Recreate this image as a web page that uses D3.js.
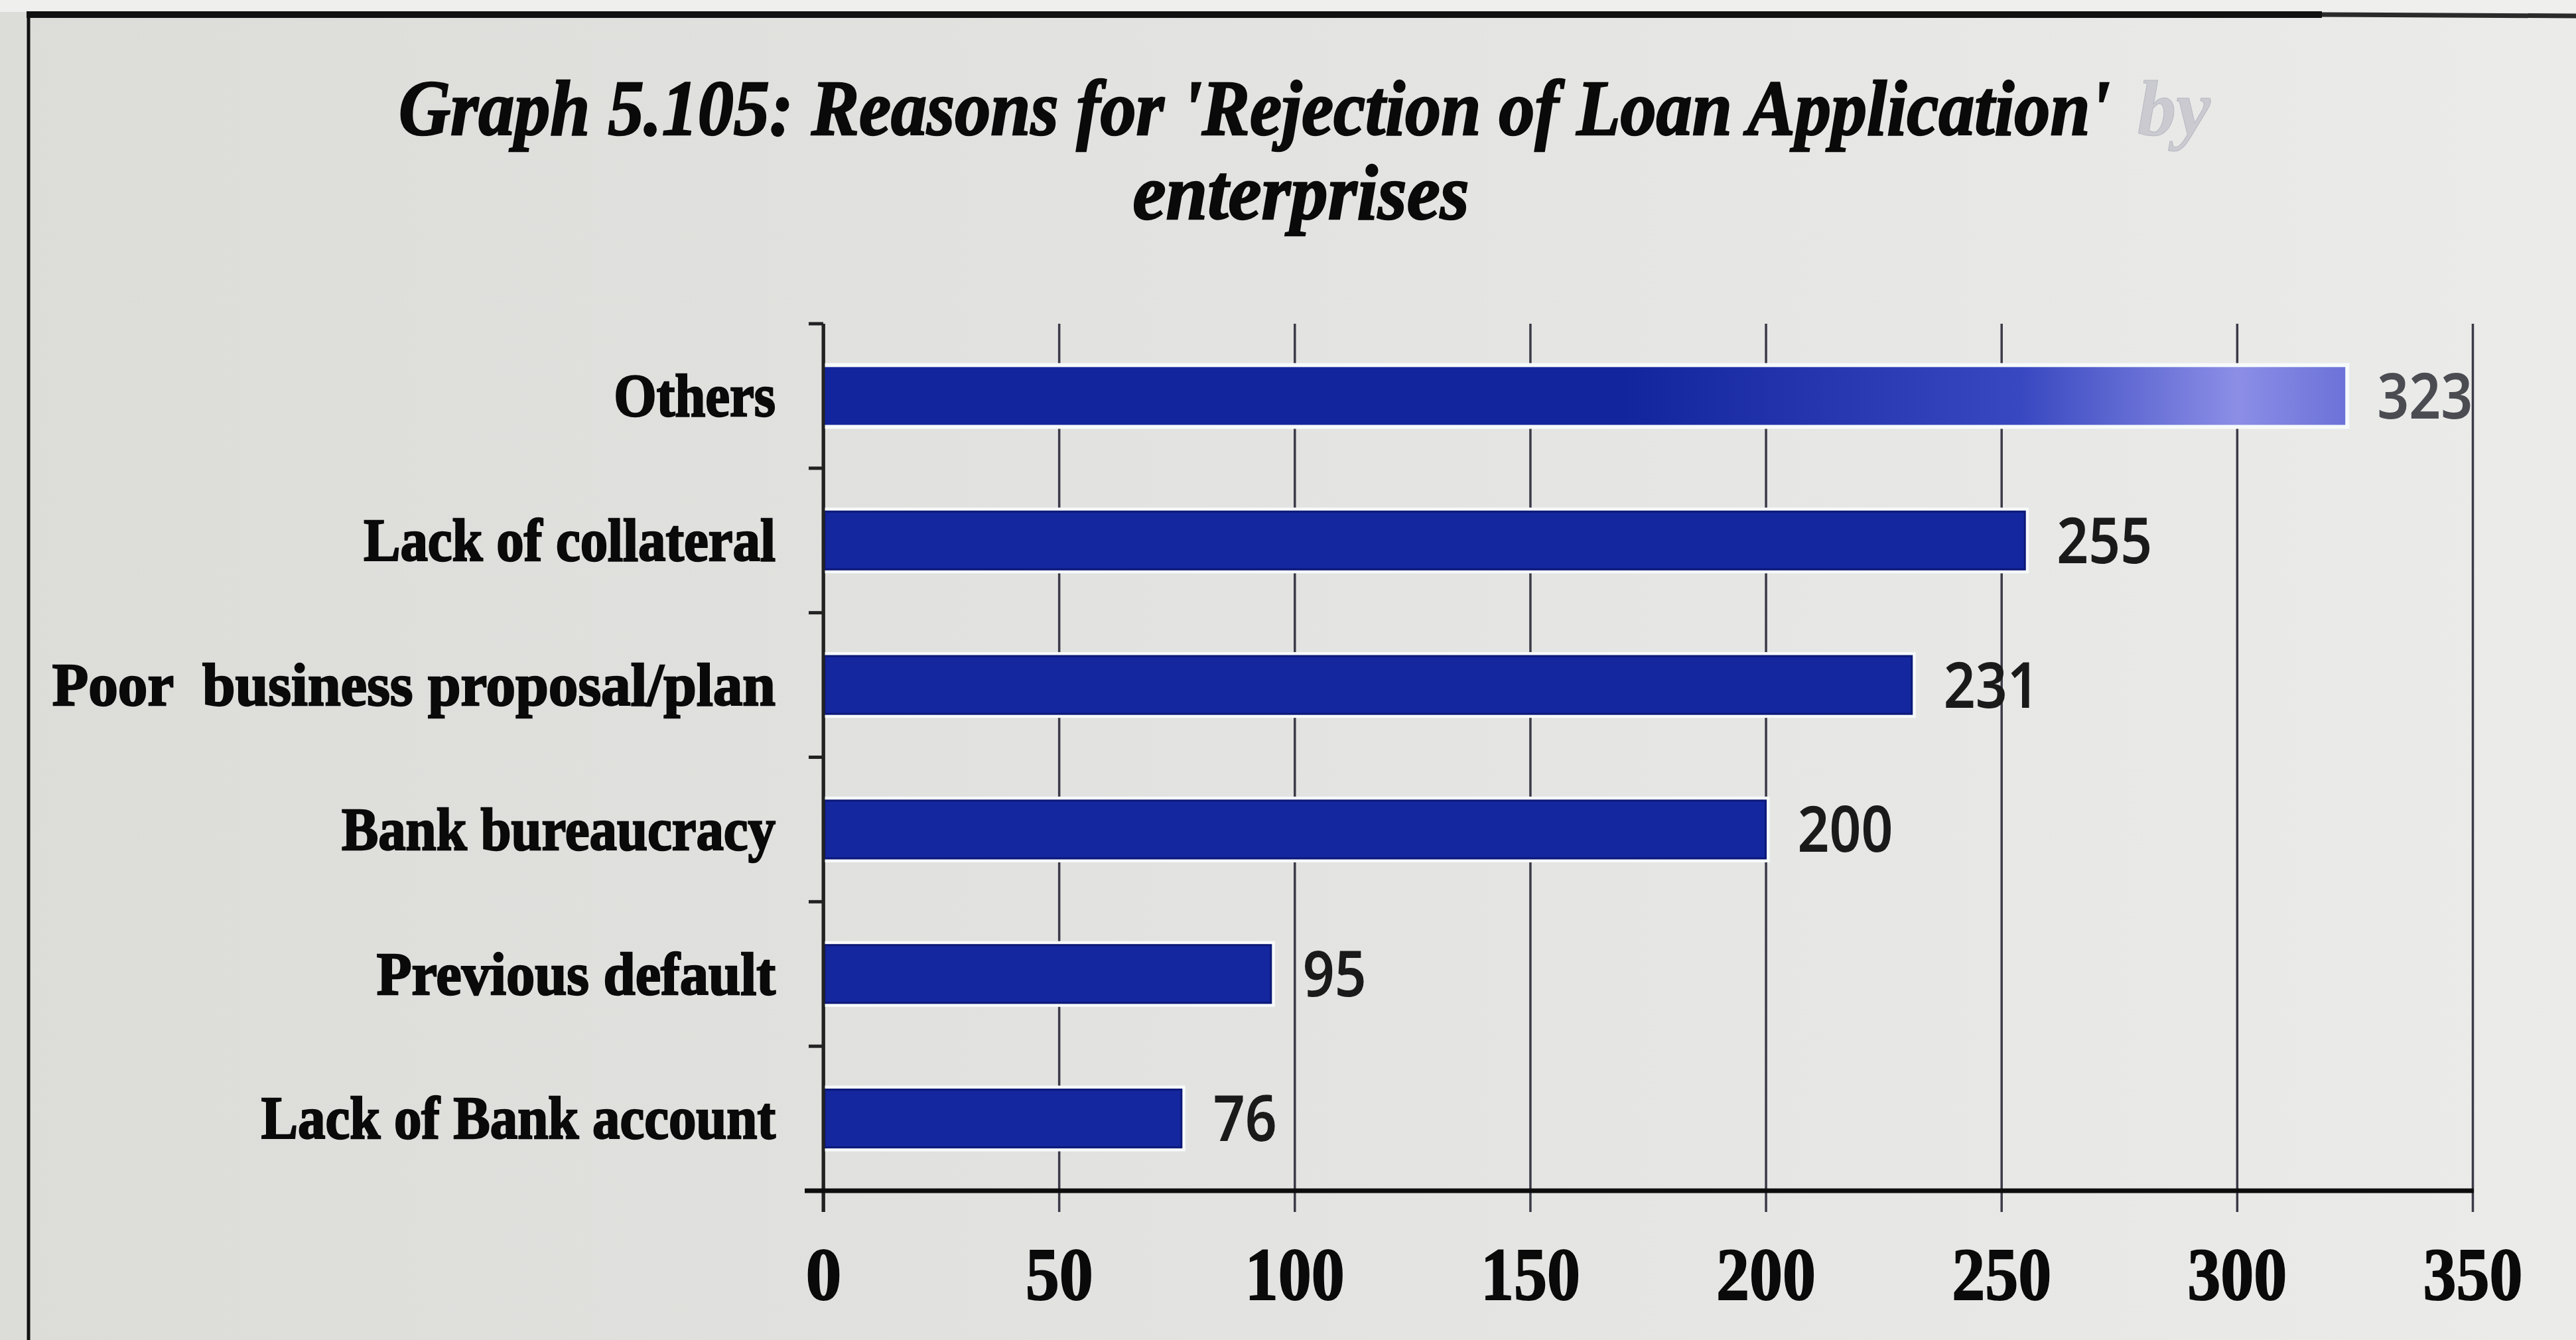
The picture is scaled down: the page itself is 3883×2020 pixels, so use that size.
<!DOCTYPE html>
<html>
<head>
<meta charset="utf-8">
<script src="https://cdn.jsdelivr.net/npm/d3@7"></script>
<style>
  html, body { margin: 0; padding: 0; background: #e4e4e2; overflow: hidden; }
  svg { display: block; }
</style>
</head>
<body>
<script>
// Reasons for rejection of loan applications (number of enterprises)
const categories = [
  "Others",
  "Lack of collateral",
  "Poor  business proposal/plan",
  "Bank bureaucracy",
  "Previous default",
  "Lack of Bank account"
];
const values = [323, 255, 231, 200, 95, 76];
const xTicks = [0, 50, 100, 150, 200, 250, 300, 350];
const titleLines = ["Graph 5.105: Reasons for 'Rejection of Loan Application'", "by", "enterprises"];

const W = 3883, H = 2020;
const margin = { top: 488, right: W - 3727, bottom: H - 1795, left: 1241 };

const svg = d3.select("body").append("svg")
  .attr("width", W).attr("height", H);

const defs = svg.append("defs");
const bg = defs.append("linearGradient").attr("id", "bg").attr("x1", 0).attr("x2", 1).attr("y1", 0).attr("y2", 0);
bg.append("stop").attr("offset", 0).attr("stop-color", "#dcdcd9");
bg.append("stop").attr("offset", 0.5).attr("stop-color", "#e3e3e1");
bg.append("stop").attr("offset", 1).attr("stop-color", "#ebebea");

// paper background and the frame around the figure
svg.append("rect").attr("width", W).attr("height", H).attr("fill", "url(#bg)");
svg.append("rect").attr("width", W).attr("height", 18).attr("fill", "#efefed");
svg.append("line").attr("x1", 40).attr("x2", 3500).attr("y1", 22).attr("y2", 22)
  .attr("stroke", "#111").attr("stroke-width", 10);
svg.append("line").attr("x1", 3500).attr("x2", W).attr("y1", 22).attr("y2", 24)
  .attr("stroke", "#2a2a2a").attr("stroke-width", 7);
svg.append("line").attr("x1", 43).attr("x2", 43).attr("y1", 18).attr("y2", H)
  .attr("stroke", "#111").attr("stroke-width", 5);

const x = d3.scaleLinear().domain([0, 350]).range([margin.left, W - margin.right]);
const y = d3.scaleBand().domain(categories)
  .range([margin.top, H - margin.bottom])
  .paddingInner(0.6).paddingOuter(0.3);

// highlight falling across the top bar
const glare = defs.append("linearGradient").attr("id", "glare")
  .attr("gradientUnits", "userSpaceOnUse")
  .attr("x1", x(170)).attr("x2", x(323)).attr("y1", 0).attr("y2", 0);
glare.append("stop").attr("offset", 0).attr("stop-color", "#13259c");
glare.append("stop").attr("offset", 0.55).attr("stop-color", "#3848c0");
glare.append("stop").attr("offset", 0.85).attr("stop-color", "#8c8ee6");
glare.append("stop").attr("offset", 1).attr("stop-color", "#6c72d8");

// title: each piece is squeezed horizontally to its printed width
const title = svg.append("g")
  .attr("font-family", "'Liberation Serif', 'DejaVu Serif', serif")
  .attr("font-weight", "bold").attr("font-style", "italic")
  .attr("font-size", 118).attr("fill", "#0a0a0a")
  .attr("stroke", "#0a0a0a").attr("stroke-width", 2.5);
function squeezed(txt, left, base, width) {
  const t = title.append("text").attr("x", 0).attr("y", 0).text(txt);
  const k = width / t.node().getComputedTextLength();
  t.attr("transform", `translate(${left},${base}) scale(${k},1)`);
  return t;
}
squeezed(titleLines[0], 601, 203, 2580);
squeezed(titleLines[1], 3222, 203, 110)
  .attr("fill", "#cacad0").attr("stroke", "#b8b8c4").attr("stroke-width", 1);
squeezed(titleLines[2], 1961 - 507 / 2, 330, 507);

// vertical gridlines with tick labels beneath the plot
const gridLen = (H - margin.bottom) - margin.top + 32;
const xAxis = d3.axisBottom(x).tickValues(xTicks).tickSize(gridLen).tickPadding(52);
const gx = svg.append("g").attr("transform", `translate(0,${margin.top})`).call(xAxis);
gx.select(".domain").remove();
gx.selectAll(".tick line").attr("stroke", "#3a3a48").attr("stroke-width", 3.5);
gx.selectAll(".tick line").filter(d => d === 0).attr("stroke", "#222").attr("stroke-width", 4.5);
gx.selectAll(".tick text")
  .attr("font-family", "'Liberation Serif', 'DejaVu Serif', serif")
  .attr("font-weight", "bold").attr("font-size", 112).attr("fill", "#0a0a0a")
  .attr("stroke", "#0a0a0a").attr("stroke-width", 2)
  .attr("textLength", d => String(d).length * 48 + 6)
  .attr("lengthAdjust", "spacingAndGlyphs");

// category boundary ticks on the value axis
const step = y.step();
const bounds = categories.map(c => y(c) - step * y.paddingOuter()).concat([H - margin.bottom]);
svg.append("g").selectAll("line").data(bounds).join("line")
  .attr("x1", margin.left - 22).attr("x2", margin.left)
  .attr("y1", d => d).attr("y2", d => d)
  .attr("stroke", "#222").attr("stroke-width", 5);

// bars, with the pale halo that outlines each of them
const bars = svg.append("g");
bars.selectAll("rect.halo").data(values).join("rect").attr("class", "halo")
  .attr("x", x(0) + 2).attr("y", (d, i) => y(categories[i]) - 6)
  .attr("width", d => x(d) - x(0) + 4).attr("height", y.bandwidth() + 12)
  .attr("fill", "#f6fafa");
bars.selectAll("rect.bar").data(values).join("rect").attr("class", "bar")
  .attr("x", x(0) + 2).attr("y", (d, i) => y(categories[i]))
  .attr("width", d => x(d) - x(0) - 2).attr("height", y.bandwidth())
  .attr("fill", (d, i) => i === 0 ? "url(#glare)" : "#14279e")
  .attr("stroke", (d, i) => i === 0 ? "none" : "#0c1878").attr("stroke-width", 3);

// value labels
svg.append("g").selectAll("text").data(values).join("text")
  .attr("x", d => x(d) + 48)
  .attr("y", (d, i) => y(categories[i]) + y.bandwidth() / 2 + 34)
  .attr("font-family", "'Noto Sans', 'Open Sans', sans-serif")
  .attr("font-weight", 600).attr("font-size", 96)
  .attr("fill", (d, i) => i === 0 ? "#4a4c52" : "#1a1a1a")
  .attr("textLength", d => String(d).length * 48)
  .attr("lengthAdjust", "spacingAndGlyphs")
  .text(d => d);

// category labels
const yAxis = d3.axisLeft(y).tickSize(0).tickPadding(72);
const gy = svg.append("g").attr("transform", `translate(${margin.left},0)`).call(yAxis);
gy.select(".domain").remove();
gy.selectAll(".tick text")
  .attr("font-family", "'Liberation Serif', 'DejaVu Serif', serif")
  .attr("font-weight", "bold").attr("font-size", 92).attr("fill", "#0a0a0a")
  .attr("stroke", "#0a0a0a").attr("stroke-width", 2.5)
  .style("white-space", "pre")
  .attr("dy", "0.33em")
  .each(function (d) {
    const n = this.getComputedTextLength();
    const k = d.startsWith("Previous") ? 0.94 : d.startsWith("Poor") ? 0.97 : 0.9;
    d3.select(this).attr("textLength", n * k).attr("lengthAdjust", "spacingAndGlyphs");
  });

// value axis and the heavy baseline
svg.append("line").attr("x1", margin.left).attr("x2", margin.left)
  .attr("y1", margin.top).attr("y2", H - margin.bottom + 32)
  .attr("stroke", "#222").attr("stroke-width", 5);
svg.append("line").attr("x1", margin.left - 28).attr("x2", W - margin.right + 2)
  .attr("y1", H - margin.bottom).attr("y2", H - margin.bottom)
  .attr("stroke", "#0d0d0d").attr("stroke-width", 7);
</script>
</body>
</html>
